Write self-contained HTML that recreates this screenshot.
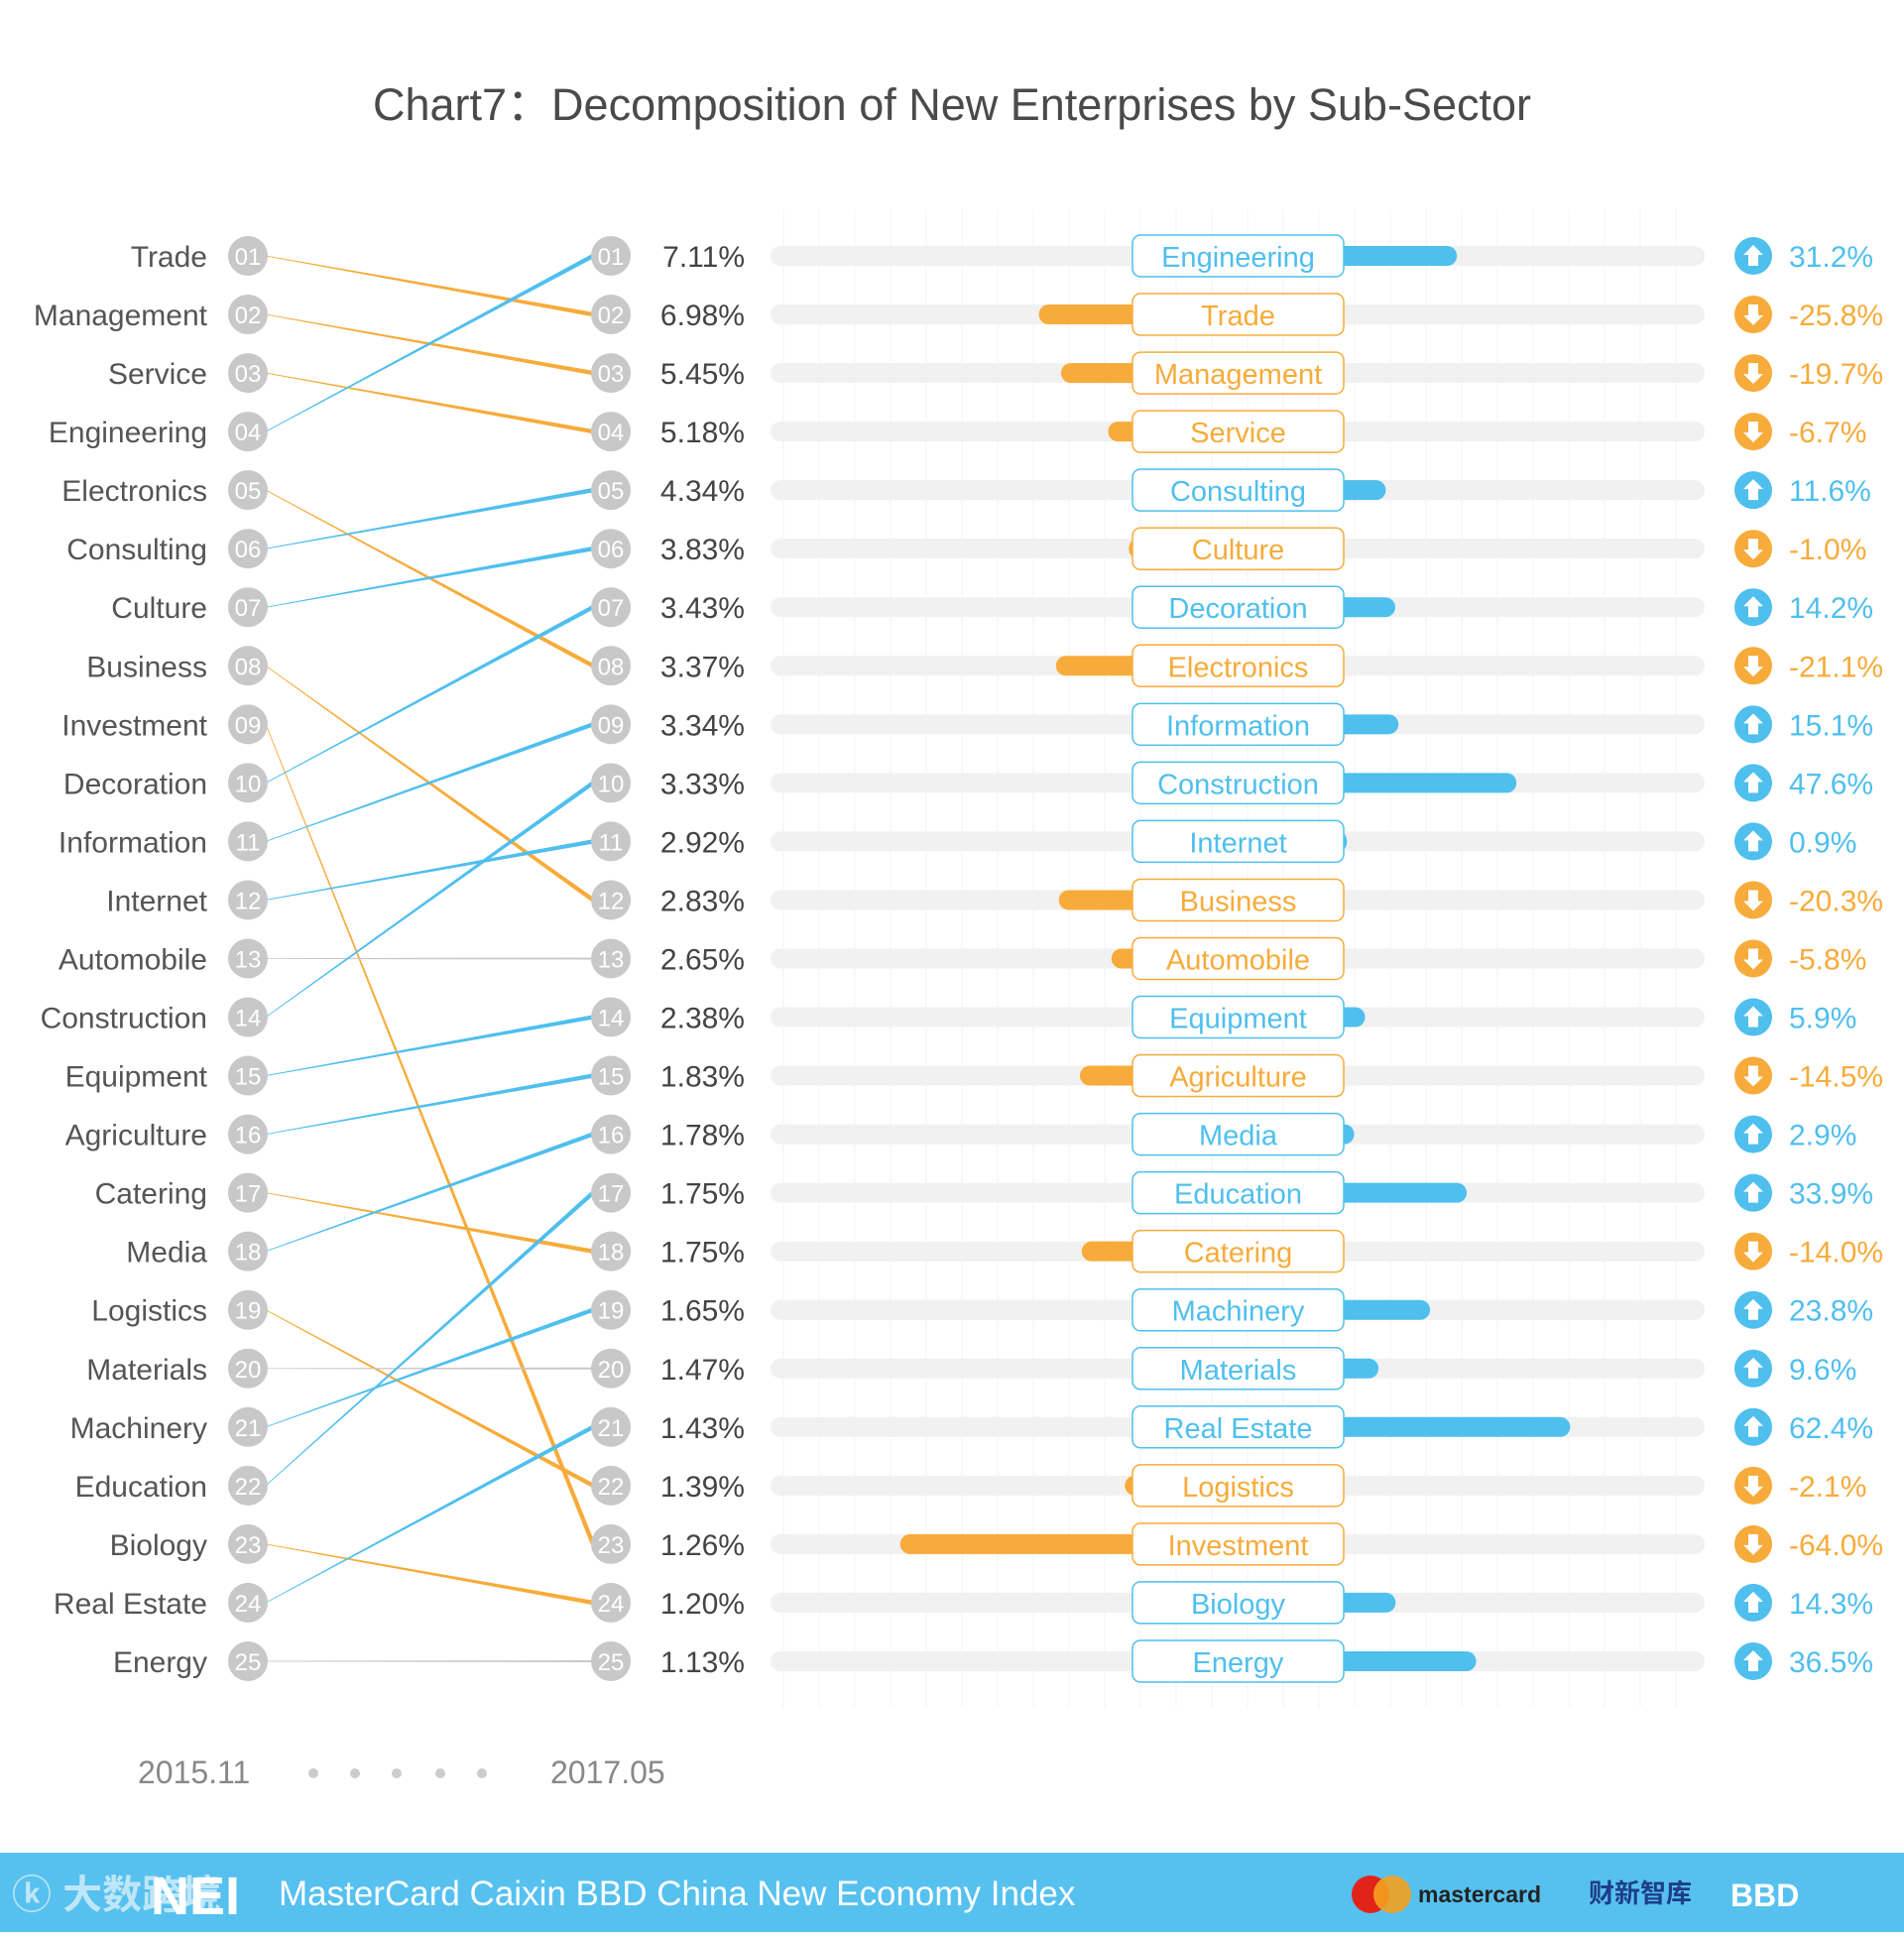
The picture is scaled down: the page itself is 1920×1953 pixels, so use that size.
<!DOCTYPE html>
<html><head><meta charset="utf-8">
<style>
html,body{margin:0;padding:0;background:#fff;}
body{width:1920px;height:1948px;overflow:hidden;font-family:"Liberation Sans","Noto Sans CJK SC",sans-serif;}
svg text{font-family:"Liberation Sans","Noto Sans CJK SC",sans-serif;}
</style></head>
<body>
<svg id="chart" width="1920" height="1948" viewBox="0 0 1920 1948" xmlns="http://www.w3.org/2000/svg">
<text x="960" y="121" text-anchor="middle" font-size="45" fill="#4a4a4a">Chart7：Decomposition of New Enterprises by Sub-Sector</text>
<g id="grid"></g>
<g id="lines"></g>
<g id="rows"></g>
<text x="139" y="1798" font-size="32" fill="#888">2015.11</text>
<g fill="#ccc">
<circle cx="316" cy="1788" r="5"/><circle cx="358" cy="1788" r="5"/><circle cx="400" cy="1788" r="5"/><circle cx="444" cy="1788" r="5"/><circle cx="486" cy="1788" r="5"/></g>
<text x="555" y="1798" font-size="32" fill="#888">2017.05</text>
<rect x="0" y="1868" width="1920" height="80" fill="#56c1ef"/>
<text x="12" y="1924" font-size="40" font-weight="bold" fill="#bfe6f8">ⓚ 大数跨境</text>
<text x="152" y="1930" font-size="54" font-weight="bold" fill="#fff">NEI</text>
<text x="281" y="1921" font-size="35" fill="#fff">MasterCard Caixin BBD China New Economy Index</text>
<g>
<circle cx="1382" cy="1910" r="19" fill="#e2231a"/><circle cx="1404" cy="1910" r="19" fill="#f4a11f" fill-opacity="0.9"/>
<text x="1430" y="1918" font-size="23" font-weight="bold" fill="#222">mastercard</text></g>
<text x="1602" y="1918" font-size="26" font-weight="bold" fill="#1d3e8a">财新智库</text>
<text x="1745" y="1922" font-size="32" font-weight="bold" fill="#fff">BBD</text>
</svg>
<script>
const leftNames = ["Trade","Management","Service","Engineering","Electronics","Consulting","Culture","Business","Investment","Decoration","Information","Internet","Automobile","Construction","Equipment","Agriculture","Catering","Media","Logistics","Materials","Machinery","Education","Biology","Real Estate","Energy"];
const rightNames = ["Engineering","Trade","Management","Service","Consulting","Culture","Decoration","Electronics","Information","Construction","Internet","Business","Automobile","Equipment","Agriculture","Media","Education","Catering","Machinery","Materials","Real Estate","Logistics","Investment","Biology","Energy"];
const shares = [7.11,6.98,5.45,5.18,4.34,3.83,3.43,3.37,3.34,3.33,2.92,2.83,2.65,2.38,1.83,1.78,1.75,1.75,1.65,1.47,1.43,1.39,1.26,1.20,1.13];
const changes = [31.2,-25.8,-19.7,-6.7,11.6,-1.0,14.2,-21.1,15.1,47.6,0.9,-20.3,-5.8,5.9,-14.5,2.9,33.9,-14.0,23.8,9.6,62.4,-2.1,-64.0,14.3,36.5];

const NS="http://www.w3.org/2000/svg";
const BLUE="#4fbfee", ORANGE="#f7ab3a", GRAY="#c8c8c8";
const y0=258, step=59.04;
const rowY = i => y0 + i*step;
const boxL=1142, boxR=1355, pxPerPct=3.66;
const xChange = v => v*pxPerPct;
function mk(tag, attrs, parent){const e=document.createElementNS(NS,tag);for(const k in attrs)e.setAttribute(k,attrs[k]);parent.appendChild(e);return e;}

const grid=document.getElementById('grid');
for(let x=790;x<1719;x+=36){
  const l=mk('line',{x1:x,x2:x,y1:211,y2:1721,stroke:'#f3f3f3','stroke-width':1},grid);
  
  
}

const lines=document.getElementById('lines');
leftNames.forEach((n,i)=>{
  const j=rightNames.indexOf(n);
  const c = j<i?BLUE:(j>i?ORANGE:GRAY);
  const x1=268,x2=598,ya=rowY(i),yb=rowY(j);
  const dx=x2-x1, dy=yb-ya, len=Math.hypot(dx,dy), nx=-dy/len, ny=dx/len;
  const w1=0.4,w2= j===i?1:2.2;
  const p=mk('polygon',{points:`${x1+nx*w1},${ya+ny*w1} ${x2+nx*w2},${yb+ny*w2} ${x2-nx*w2},${yb-ny*w2} ${x1-nx*w1},${ya-ny*w1}`,fill:c},lines);
  
  
});

const rows=document.getElementById('rows');
for(let i=0;i<25;i++){
  const y=rowY(i), num=String(i+1).padStart(2,'0');
  const t=mk('text',{x:209,y:y+11,'text-anchor':'end','font-size':30,fill:'#555'},rows);t.textContent=leftNames[i];
  
  
  const c1=mk('circle',{cx:250,cy:y,r:20,fill:GRAY},rows);
  
  
  const n1=mk('text',{x:250,y:y+9,'text-anchor':'middle','font-size':24,fill:'#fff'},rows);n1.textContent=num;
  
  
  const c2=mk('circle',{cx:616,cy:y,r:20,fill:GRAY},rows);
  
  
  const n2=mk('text',{x:616,y:y+9,'text-anchor':'middle','font-size':24,fill:'#fff'},rows);n2.textContent=num;
  
  
  const pt=mk('text',{x:751,y:y+11,'text-anchor':'end','font-size':30,fill:'#444'},rows);pt.textContent=shares[i].toFixed(2)+'%';
  
  
  const tr=mk('rect',{x:777,y:y-10,width:942,height:20,rx:10,fill:'#f1f1f1'},rows);
  
  
  const v=changes[i], up=v>=0, col=up?BLUE:ORANGE, w=Math.abs(xChange(v));
  const bx = up? boxR-12 : boxL-w;
  const bar=mk('rect',{x:bx,y:y-10,width:w+12,height:20,rx:10,fill:col},rows);
  
  
  const box=mk('rect',{x:boxL,y:y-21,width:boxR-boxL,height:42,rx:8,fill:'#fff',stroke:col,'stroke-width':1.5},rows);
  
  
  const bt=mk('text',{x:(boxL+boxR)/2,y:y+11,'text-anchor':'middle','font-size':29,fill:col},rows);bt.textContent=rightNames[i];
  
  
  const ic=mk('circle',{cx:1768,cy:y,r:19,fill:col},rows);
  
  
  const d=up?-1:1;
  const ar=mk('polygon',{points:`1768,${y+d*11} 1758,${y+d*1} 1763,${y+d*1} 1763,${y-d*10} 1773,${y-d*10} 1773,${y+d*1} 1778,${y+d*1}`,fill:'#fff'},rows);
  
  
  const ct=mk('text',{x:1804,y:y+11,'font-size':30,fill:col},rows);ct.textContent=v.toFixed(1)+'%';
  
  
}
</script>
</body></html>
